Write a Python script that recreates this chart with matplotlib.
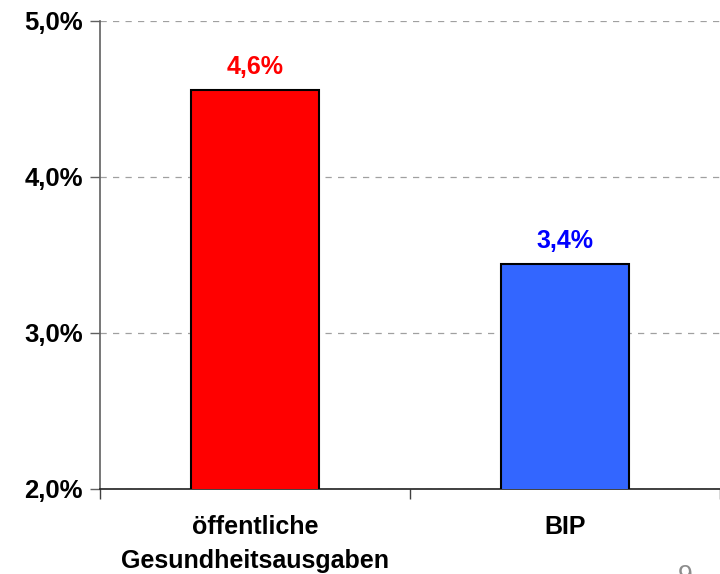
import matplotlib
matplotlib.use("Agg")
import matplotlib.pyplot as plt

categories = ["öffentliche\nGesundheitsausgaben", "BIP"]
values = [4.56, 3.44]
bar_colors = ["#FF0000", "#3366FF"]
label_colors = ["#FF0000", "#0000FF"]
y_ticks = [2.0, 3.0, 4.0, 5.0]
y_tick_labels = ["2,0%", "3,0%", "4,0%", "5,0%"]

plt.rcParams["font.family"] = ["Liberation Sans", "DejaVu Sans"]

fig = plt.figure(figsize=(7.2, 5.74), dpi=100)
ax = fig.add_axes([100 / 720, (574 - 489) / 574, 620 / 720, (489 - 21) / 574])

x = list(range(len(categories)))
ax.bar(x, values, width=0.41, color=bar_colors, edgecolor="black",
       linewidth=1.5, zorder=3)

for xi, v, c in zip(x, values, label_colors):
    ax.annotate(f"{v:.1f}%".replace(".", ","), (xi, v), xytext=(0, 8),
                textcoords="offset points", ha="center", va="bottom",
                fontsize=18, fontweight="bold", color=c)

ax.set_xlim(-0.5, 1.5)
ax.set_ylim(2.0, 5.0)
ax.set_yticks(y_ticks)
ax.set_yticklabels(y_tick_labels, fontsize=18.5, fontweight="bold")
ax.yaxis.grid(True, linestyle=(0, (5, 5)), color="#A0A0A0", linewidth=0.9, zorder=0)

# Category boundaries carry the tick marks; names sit under the bars
ax.set_xticks([-0.5, 0.5, 1.5])
ax.set_xticklabels([])
ax.set_xticks(x, minor=True)
ax.set_xticklabels(categories, minor=True, fontsize=18, fontweight="bold",
                   linespacing=1.5)
ax.tick_params(axis="x", which="minor", length=0, pad=19)
ax.tick_params(axis="x", which="major", length=7, width=1, color="#404040")
ax.tick_params(axis="y", length=7, width=1, color="#606060", pad=5.5)

for s in ("top", "right"):
    ax.spines[s].set_visible(False)
ax.spines["left"].set_color("#606060")
ax.spines["bottom"].set_color("#202020")
ax.spines["left"].set_linewidth(1.2)
ax.spines["bottom"].set_linewidth(1.2)

# Page number at the lower edge of the slide
fig.text(685 / 720, (574 - 564) / 574, "9", fontsize=19, color="#8C8C8C",
         ha="center", va="top")

fig.savefig("out.png", dpi=100)
